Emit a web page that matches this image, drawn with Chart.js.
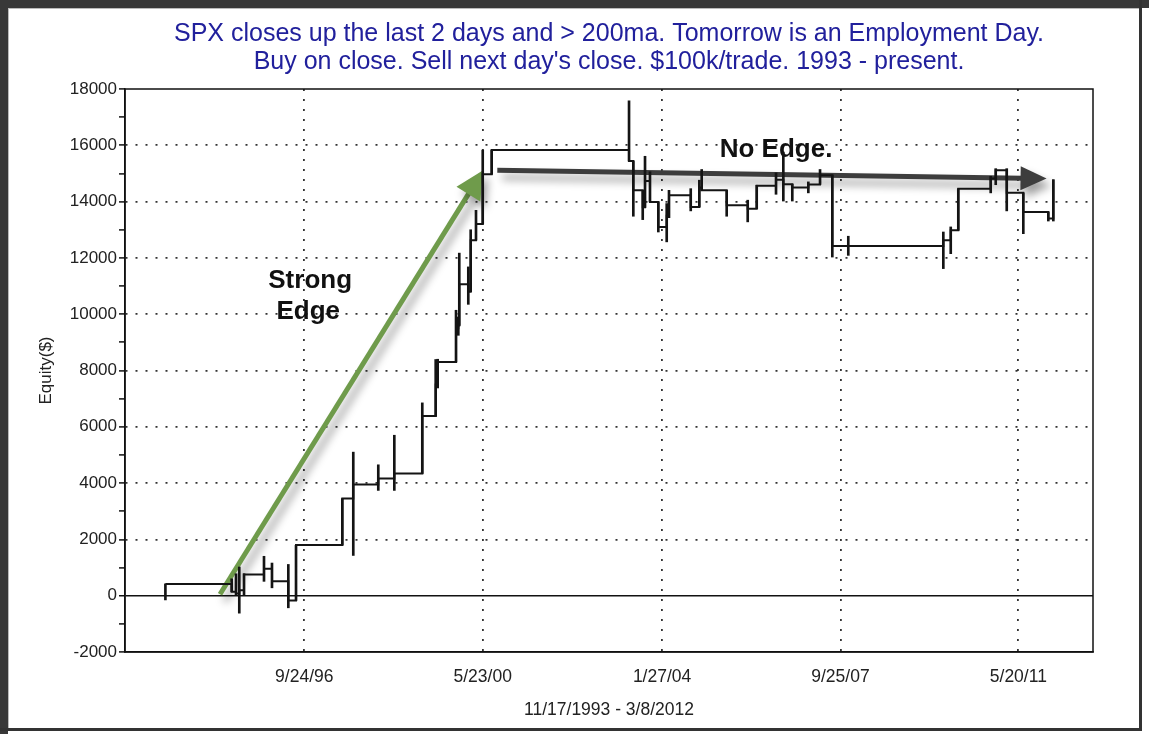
<!DOCTYPE html>
<html>
<head>
<meta charset="utf-8">
<script src="https://cdn.jsdelivr.net/npm/chart.js@4.4.1/dist/chart.umd.min.js"></script>
<style>
html,body{margin:0;padding:0;background:#fff;width:1149px;height:734px;overflow:hidden}
.fr{position:absolute;background:#383838}
#wrap{position:absolute;left:0;top:0;width:1149px;height:734px}
</style>
</head>
<body>
<div class="fr" style="left:0;top:0;width:1149px;height:8px"></div>
<div class="fr" style="left:0;top:0;width:8px;height:734px"></div>
<div class="fr" style="left:1139px;top:0;width:3px;height:731px;background:#333"></div>
<div class="fr" style="left:0;top:728px;width:1142px;height:3px;background:#333"></div>
<div class="fr" style="left:8px;top:8px;width:1131px;height:1px;background:#bbb"></div>
<div class="fr" style="left:8px;top:8px;width:1px;height:720px;background:#bbb"></div>
<div id="wrap"><canvas id="c" width="1149" height="734"></canvas></div>
<script>
// ---- data ----
const titleLines = ["SPX closes up the last 2 days and > 200ma. Tomorrow is an Employment Day.",
                    "Buy on close. Sell next day's close. $100k/trade. 1993 - present."];
const xAxisTitle = "11/17/1993 - 3/8/2012";
const yAxisTitle = "Equity($)";
const xTickLabels = ["9/24/96", "5/23/00", "1/27/04", "9/25/07", "5/20/11"];

// trade dates (decimal years)
const tradeDates = [1993.88, 1995.240, 1995.329, 1995.396, 1995.493, 1995.903, 1996.067, 1996.402, 1996.560,
  1997.510, 1997.735, 1998.248, 1998.577, 1999.151, 1999.426, 1999.467, 1999.843, 1999.890, 1999.910,
  2000.095, 2000.144, 2000.253, 2000.391, 2000.575, 2003.393, 2003.481, 2003.674, 2003.721, 2003.823,
  2003.994, 2004.166, 2004.213, 2004.659, 2004.835, 2004.884, 2005.397, 2005.828, 2006.013, 2006.409,
  2006.559, 2006.743, 2007.072, 2007.312, 2007.564, 2007.892, 2009.842, 2009.994, 2010.149, 2010.814,
  2010.917, 2011.143, 2011.483, 2011.996, 2012.099];
// equity after each trade
const equity = [420, 140, 80, 190, 750, 960, 510, -170, 1800,
  3450, 3950, 4160, 4340, 6380, 7500, 8300, 9500, 9600, 11060,
  10800, 12630, 13200, 14970, 15830, 15440, 14400, 13800, 14730, 13990,
  13100, 13500, 14230, 13810, 14500, 14400, 13870, 13750, 14560, 14780,
  14620, 14500, 14610, 14940, 12420, 12420, 12630, 12980, 14460, 14820,
  15110, 14310, 13630, 13400, 14780];
// intra-trade low / high equity
const tradeLow = [-150, 140, 0, -620, 0, 510, 280, -430, -170,
  1800, 1430, 3740, 3740, 4340, 6370, 7380, 8300, 9250, 9600,
  10350, 10800, 12630, 13200, 14970, 15440, 13480, 13360, 13790, 13990,
  12920, 12570, 13430, 13670, 13810, 14400, 13480, 13280, 13750, 14260,
  14020, 14020, 14310, 14610, 12030, 12090, 11620, 12150, 12980, 14310,
  14600, 13670, 12860, 13310, 13310];
const tradeHigh = [420, 600, 780, 1020, 780, 1400, 1160, 1110, 1790,
  3450, 5100, 4650, 5700, 6850, 8390, 8400, 10140, 9900, 12170,
  11680, 13000, 13690, 15830, 15830, 17580, 15440, 14400, 15610, 15060,
  13990, 13930, 14400, 14460, 14760, 15140, 14400, 14050, 14580, 15020,
  15760, 14620, 14700, 15140, 14940, 12770, 12920, 13100, 14460, 14900,
  15170, 15170, 14310, 13630, 14780];

// ---- helpers ----
function tickLabelToYear(s) {
  const [m, d, yy] = s.split('/').map(Number);
  const y = yy < 50 ? 2000 + yy : 1900 + yy;
  const start = Date.UTC(y, 0, 1), end = Date.UTC(y + 1, 0, 1);
  return y + (Date.UTC(y, m - 1, d) - start) / (end - start);
}
const xTickValues = xTickLabels.map(tickLabelToYear);

const annotations = {
  arrows: [
    {from: [1995.00, 50], to: [2000.40, 15110], color: '#6f9b4b', width: 5, head: 28, half: 14},
    {from: [2000.69, 15110], to: [2011.96, 14820], color: '#3d3d3d', width: 5, head: 26, half: 12}
  ],
  texts: [
    {text: 'Strong', at: [1996.85, 11170]},
    {text: 'Edge', at: [1996.81, 10070]},
    {text: 'No Edge.', at: [2006.41, 15830]}
  ]
};

const annotationPlugin = {
  id: 'annot',
  beforeDatasetsDraw(chart) {
    const {ctx, scales: {x, y}} = chart;
    annotations.arrows.forEach(a => {
      const x1 = x.getPixelForValue(a.from[0]), y1 = y.getPixelForValue(a.from[1]);
      const x2 = x.getPixelForValue(a.to[0]), y2 = y.getPixelForValue(a.to[1]);
      const ang = Math.atan2(y2 - y1, x2 - x1);
      const bx = x2 - a.head * Math.cos(ang), by = y2 - a.head * Math.sin(ang);
      ctx.save();
      ctx.shadowColor = 'rgba(0,0,0,0.38)';
      ctx.shadowBlur = 9; ctx.shadowOffsetX = 5; ctx.shadowOffsetY = 7;
      ctx.strokeStyle = a.color; ctx.lineWidth = a.width;
      ctx.beginPath(); ctx.moveTo(x1, y1); ctx.lineTo(bx + 2 * Math.cos(ang), by + 2 * Math.sin(ang)); ctx.stroke();
      ctx.fillStyle = a.color;
      ctx.beginPath(); ctx.moveTo(x2, y2);
      ctx.lineTo(bx + a.half * Math.sin(ang), by - a.half * Math.cos(ang));
      ctx.lineTo(bx - a.half * Math.sin(ang), by + a.half * Math.cos(ang));
      ctx.closePath(); ctx.fill();
      ctx.restore();
    });
    ctx.save();
    ctx.font = 'bold 26px "Liberation Sans", Arial, sans-serif';
    ctx.fillStyle = '#111';
    ctx.textAlign = 'center'; ctx.textBaseline = 'middle';
    annotations.texts.forEach(t => {
      ctx.fillText(t.text, x.getPixelForValue(t.at[0]), y.getPixelForValue(t.at[1]));
    });
    ctx.restore();
  },
  afterDraw(chart) {
    const {ctx, chartArea: a} = chart;
    ctx.save();
    ctx.strokeStyle = '#111'; ctx.lineWidth = 1.5;
    ctx.strokeRect(a.left, a.top, a.right - a.left, a.bottom - a.top);
    ctx.restore();
  }
};

const font = '"Liberation Sans", Arial, sans-serif';

new Chart(document.getElementById('c'), {
  type: 'line',
  data: {
    datasets: [
      {
        type: 'bar',
        data: tradeDates.map((d, i) => ({x: d, y: [tradeLow[i], tradeHigh[i]]})),
        backgroundColor: '#141414', borderWidth: 0, barThickness: 2, grouped: false, order: 2
      },
      {
        type: 'line',
        data: tradeDates.map((d, i) => ({x: d, y: equity[i]})),
        stepped: 'before', borderColor: '#141414', borderWidth: 2, pointRadius: 0, fill: false, order: 1
      }
    ]
  },
  options: {
    responsive: false, animation: false,
    layout: {padding: {left: 8, right: 56, top: 0, bottom: 8}},
    plugins: {
      legend: {display: false}, tooltip: {enabled: false},
      title: {
        display: true, fullSize: false, text: titleLines, color: '#21209c',
        font: {family: font, size: 25, weight: 'normal', lineHeight: 1.12},
        padding: {top: 20, bottom: 13}
      }
    },
    scales: {
      x: {
        type: 'linear', min: 1993.051, max: 2012.913, offset: false,
        afterBuildTicks: s => { s.ticks = xTickValues.map(v => ({value: v})); },
        afterFit: s => { s.height = 74; },
        ticks: {
          autoSkip: false, maxRotation: 0, padding: 15, color: '#222',
          font: {family: font, size: 17.5},
          callback: v => { const i = xTickValues.findIndex(t => Math.abs(t - v) < 1e-6); return i >= 0 ? xTickLabels[i] : ''; }
        },
        grid: {color: '#333', lineWidth: 1.8, drawTicks: false, offset: false},
        border: {display: true, color: '#111', width: 1.5, dash: [2, 8]},
        title: {display: true, text: xAxisTitle, color: '#222', font: {family: font, size: 17.5, lineHeight: 1.2}, padding: {top: 0, bottom: 5}}
      },
      y: {
        min: -2000, max: 18000,
        afterFit: s => { s.width = 117; },
        ticks: {
          stepSize: 1000, autoSkip: false, padding: 2, color: '#222',
          font: {family: font, size: 17},
          callback: v => (v % 2000 === 0 ? String(v) : '')
        },
        grid: {
          color: c => (c.tick && c.tick.value === 0) ? '#111' : ((c.tick && c.tick.value % 2000 === 0 && c.tick.value !== 18000 && c.tick.value !== -2000) ? '#333' : 'rgba(0,0,0,0)'),
          lineWidth: c => (c.tick && c.tick.value === 0) ? 1.5 : 1.8,
          tickColor: '#111', tickWidth: 1.5, tickLength: 6
        },
        border: {display: true, color: '#111', width: 1.5,
          dash: c => (c.tick && c.tick.value === 0) ? [] : [2, 8]},
        title: {display: true, text: yAxisTitle, color: '#222', font: {family: font, size: 17, lineHeight: 1.2}, padding: {top: 28, bottom: 0}}
      }
    }
  },
  plugins: [annotationPlugin]
});
</script>
</body>
</html>
